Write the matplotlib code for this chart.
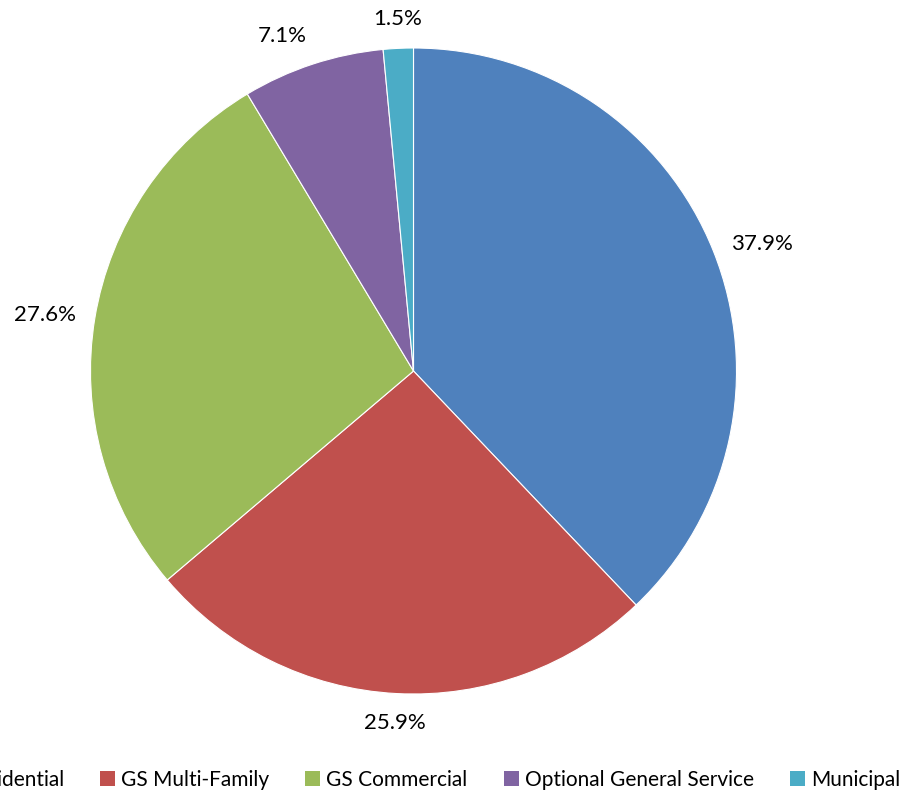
import matplotlib
matplotlib.use("Agg")
import matplotlib.pyplot as plt
import numpy as np
from matplotlib.patches import Patch

categories = ["Residential", "GS Multi-Family", "GS Commercial", "Optional General Service", "Municipal"]
values = [37.9, 25.9, 27.6, 7.1, 1.5]
labels = ["37.9%", "25.9%", "27.6%", "7.1%", "1.5%"]
colors = ["#4F81BD", "#C0504D", "#9BBB59", "#8064A2", "#4BACC6"]

plt.rcParams['font.family'] = ['Lato', 'DejaVu Sans']

W, H = 905, 793
fig = plt.figure(figsize=(W / 100, H / 100), dpi=100)
cx, cy, r = 413.5, 371, 323
ax = fig.add_axes([(cx - r) / W, (H - cy - r) / H, 2 * r / W, 2 * r / H])
wedges, _ = ax.pie(values, colors=colors, startangle=90, counterclock=False, radius=1,
                   wedgeprops=dict(edgecolor='white', linewidth=0.8))
ax.set_xlim(-1, 1)
ax.set_ylim(-1, 1)
ax.axis('off')

for w, lab in zip(wedges, labels):
    ang = np.deg2rad((w.theta1 + w.theta2) / 2)
    c, s = np.cos(ang), np.sin(ang)
    ha = 'left' if c > 0.3 else ('right' if c < -0.3 else 'center')
    va = 'bottom' if s > 0.5 else ('top' if s < -0.5 else 'center')
    ax.text(1.06 * c, 1.06 * s, lab, ha=ha, va=va,
            fontsize=16, color='black', clip_on=False)

handles = [Patch(facecolor=c, edgecolor='none') for c in colors]
fig.legend(handles, categories, loc='center right', bbox_to_anchor=(900 / W, 1 - 780 / H),
           ncol=5, frameon=False, fontsize=15, handlelength=0.72, handleheight=0.72,
           handletextpad=0.29, columnspacing=1.73, borderpad=0, borderaxespad=0)

fig.savefig("out.png", dpi=100)
